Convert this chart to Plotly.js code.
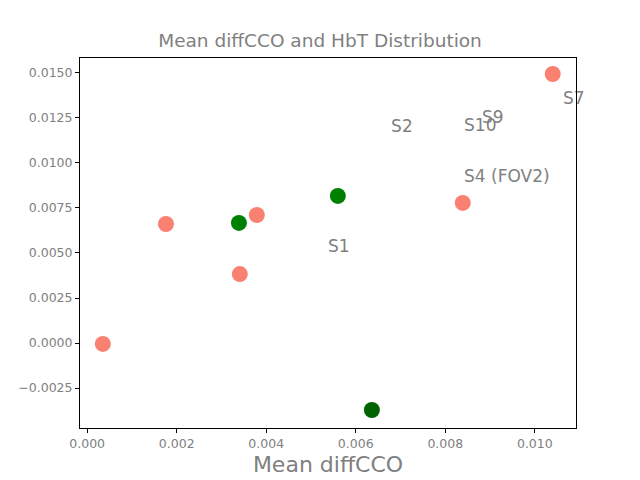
<!DOCTYPE html>
<html><head><meta charset="utf-8">
<script src="https://cdn.plot.ly/plotly-3.0.1.min.js"></script>
<style>body{margin:0}</style></head>
<body><div id="chart" style="width:640px;height:480px"></div>
<script>
// point data
const pointX = [0.00035, 0.00176, 0.00341, 0.00379, 0.00839, 0.0104, 0.00339, 0.0056, 0.00636];
const pointY = [-0.00005, 0.00661, 0.00383, 0.00711, 0.00778, 0.01494, 0.00667, 0.00817, -0.00372];
const pointColors = ['salmon', 'salmon', 'salmon', 'salmon', 'salmon', 'salmon', 'green', 'green', 'darkgreen'];

// subject labels
const labelText = ['S1', 'S2', 'S10', 'S9', 'S4 (FOV2)', 'S7'];
const labelX = [0.00538, 0.00679, 0.00842, 0.00882, 0.00842, 0.01063];
const labelY = [0.00528, 0.01194, 0.0120, 0.01245, 0.00917, 0.0135];

const gray = '#808080';

const traces = [
  {
    type: 'scatter', mode: 'markers', x: pointX, y: pointY,
    marker: { size: 16, color: pointColors }, hoverinfo: 'x+y', cliponaxis: false
  },
  {
    type: 'scatter', mode: 'text', x: labelX, y: labelY, text: labelText,
    textposition: 'middle right', textfont: { family: 'DejaVu Sans', size: 17, color: gray },
    hoverinfo: 'none', cliponaxis: false
  }
];

const axisStyle = {
  showgrid: false, zeroline: false, showline: true, mirror: true,
  linecolor: 'black', linewidth: 1, ticks: 'outside', ticklen: 4, tickcolor: 'black',
  tickfont: { family: 'DejaVu Sans', size: 12.5, color: gray }
};

const layout = {
  width: 640, height: 480,
  margin: { l: 80, r: 64, t: 58, b: 52 },
  showlegend: false,
  paper_bgcolor: 'white', plot_bgcolor: 'white',
  title: { text: 'Mean diffCCO and HbT Distribution', x: 0.5, y: 0.93, xanchor: 'center',
    font: { family: 'DejaVu Sans', size: 18.5, color: gray } },
  xaxis: Object.assign({}, axisStyle, {
    range: [-0.00016, 0.01092], tickvals: [0, 0.002, 0.004, 0.006, 0.008, 0.01], tickformat: '.3f',
    title: { text: 'Mean diffCCO', standoff: 6, font: { family: 'DejaVu Sans', size: 22, color: gray } }
  }),
  yaxis: Object.assign({}, axisStyle, {
    range: [-0.00472, 0.01583], tickvals: [-0.0025, 0, 0.0025, 0.005, 0.0075, 0.01, 0.0125, 0.015], tickformat: '.4f'
  })
};

Plotly.newPlot('chart', traces, layout, { displayModeBar: false, staticPlot: true });
</script>
</body></html>
